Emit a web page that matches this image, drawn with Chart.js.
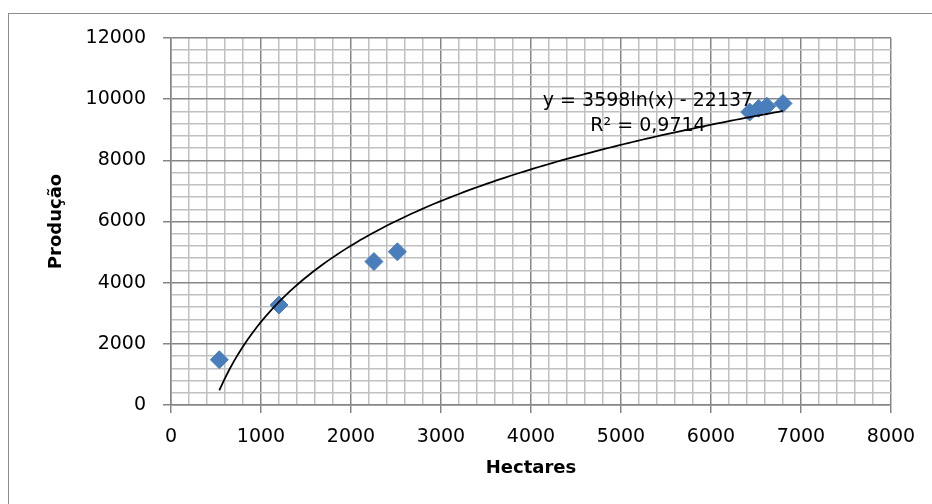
<!DOCTYPE html>
<html lang="pt-BR">
<head>
  <meta charset="UTF-8" />
  <title>Produção x Hectares</title>
  <script src="https://cdn.jsdelivr.net/npm/chart.js"></script>
  <style>
    html, body { margin: 0; padding: 0; background: #fff; }
    #box { width: 932px; height: 504px; position: relative; }
  </style>
</head>
<body>
  <div id="box"><canvas id="grafico"></canvas></div>

  <script>
    // dados
    var hectares = [537, 1200, 2255, 2515, 6430, 6530, 6620, 6800];
    var producao = [1480, 3270, 4690, 5010, 9580, 9700, 9770, 9860];

    // linha de tendência logarítmica: y = 3598ln(x) - 22137
    var coefA = 3598;
    var coefB = -22137;
    var textoEquacao = "y = 3598ln(x) - 22137";
    var textoR2 = "R² = 0,9714";
    var posEquacao = [5300, 9930];
    var posR2 = [5300, 9130];

    var xTicks = [0, 1000, 2000, 3000, 4000, 5000, 6000, 7000, 8000];
    var yTicks = [0, 2000, 4000, 6000, 8000, 10000, 12000];

    var pontos = [];
    for (var i = 0; i < hectares.length; i++) {
      pontos.push({ x: hectares[i], y: producao[i] });
    }

    var xMin = Math.min.apply(null, hectares);
    var xMax = Math.max.apply(null, hectares);
    var tendencia = [];
    for (var k = 0; k <= 120; k++) {
      var xv = xMin + (xMax - xMin) * k / 120;
      tendencia.push({ x: xv, y: coefA * Math.log(xv) + coefB });
    }

    var fonte = "'DejaVu Sans', 'Open Sans', sans-serif";
    var corMaior = "#868686";
    var corMenor = "#c0c0c0";

    function corGrade(passo) {
      return function(ctx) {
        return ctx.tick && ctx.tick.value % passo === 0 ? corMaior : corMenor;
      };
    }
    function corTick(passo) {
      return function(ctx) {
        return ctx.tick && ctx.tick.value % passo === 0 ? corMaior : "rgba(0,0,0,0)";
      };
    }

    var moldura = {
      id: "moldura",
      beforeDraw: function(chart) {
        var c = chart.ctx;
        c.save();
        c.strokeStyle = "#8c8c8c";
        c.lineWidth = 1;
        c.strokeRect(8.5, 13.5, 1000, 1000);
        c.restore();
      }
    };

    var rotuloTendencia = {
      id: "rotuloTendencia",
      afterDatasetsDraw: function(chart) {
        var c = chart.ctx;
        var sx = chart.scales.x, sy = chart.scales.y;
        c.save();
        c.fillStyle = "#000";
        c.font = "19px " + fonte;
        c.textAlign = "center";
        c.textBaseline = "middle";
        c.fillText(textoEquacao, sx.getPixelForValue(posEquacao[0]), sy.getPixelForValue(posEquacao[1]));
        c.fillText(textoR2, sx.getPixelForValue(posR2[0]), sy.getPixelForValue(posR2[1]));
        c.restore();
      }
    };

    new Chart(document.getElementById("grafico"), {
      type: "scatter",
      data: {
        datasets: [
          {
            label: "Tendência",
            type: "line",
            data: tendencia,
            borderColor: "#000",
            borderWidth: 1.75,
            pointRadius: 0,
            tension: 0,
            fill: false,
            order: 0
          },
          {
            label: "Produção",
            data: pontos,
            pointStyle: "rectRot",
            pointRadius: 9,
            backgroundColor: "#4a7ebb",
            borderColor: "#4a7ebb",
            borderWidth: 1,
            order: 1
          }
        ]
      },
      options: {
        responsive: true,
        maintainAspectRatio: false,
        animation: false,
        layout: { padding: { top: 38, right: 41, left: 0, bottom: 0 } },
        plugins: {
          legend: { display: false },
          tooltip: { enabled: false }
        },
        scales: {
          x: {
            type: "linear",
            min: 0,
            max: 8000,
            ticks: {
              stepSize: 200,
              autoSkip: false,
              maxRotation: 0,
              padding: 13,
              color: "#000",
              font: { family: fonte, size: 19 },
              callback: function(v) { return xTicks.indexOf(v) >= 0 ? String(v) : ""; }
            },
            grid: { color: corGrade(1000), tickColor: corTick(1000), tickLength: 8, lineWidth: 1.5 },
            border: { color: corMaior, width: 1.5 },
            title: {
              display: true,
              text: "Hectares",
              color: "#000",
              font: { family: fonte, size: 18, weight: "bold" },
              padding: { top: 0, bottom: 25 }
            },
            afterFit: function(scale) { scale.height = 99; }
          },
          y: {
            type: "linear",
            min: 0,
            max: 12000,
            ticks: {
              stepSize: 400,
              autoSkip: false,
              padding: 17,
              color: "#000",
              font: { family: fonte, size: 19 },
              callback: function(v) { return yTicks.indexOf(v) >= 0 ? String(v) : ""; }
            },
            grid: { color: corGrade(2000), tickColor: corTick(2000), tickLength: 8, lineWidth: 1.5 },
            border: { color: corMaior, width: 1.5 },
            title: {
              display: true,
              text: "Produção",
              color: "#000",
              font: { family: fonte, size: 18, weight: "bold" },
              padding: { top: 46, bottom: 0 }
            },
            afterFit: function(scale) { scale.width = 171; }
          }
        }
      },
      plugins: [moldura, rotuloTendencia]
    });
  </script>
</body>
</html>
